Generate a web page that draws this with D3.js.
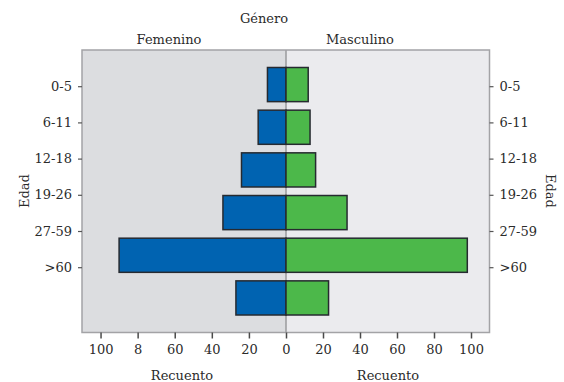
<!DOCTYPE html>
<html><head><meta charset="utf-8">
<script src="https://cdn.jsdelivr.net/npm/d3@7"></script>
<style>
body{margin:0;background:#fff;}
text{font-family:"DejaVu Serif",serif;fill:#2b2b2b;}
</style></head>
<body><svg id="c" width="564" height="382"></svg>
<script>
const ageLabels = ["0-5","6-11","12-18","19-26","27-59",">60"];
const barRows = ["r1","r2","r3","r4","r5","r6"];
const femenino = [10, 15, 24, 34, 90, 27];
const masculino = [12, 13, 16, 33, 98, 23];
const tickValues = [0, 20, 40, 60, 80, 100];
const leftTickLabels = ["0","20","40","60","8","100"];
const rightTickLabels = ["0","20","40","60","80","100"];

const svg = d3.select("#c");
const L = 82, R = 489.5, T = 50, B = 332.5, C = 286;
const maxV = 110;

const xL = d3.scaleLinear().domain([0, maxV]).range([C, L]);
const xR = d3.scaleLinear().domain([0, maxV]).range([C, R]);
const yBar = d3.scaleBand().domain(barRows).range([T, B]).paddingInner(0.2).paddingOuter(0.41);
const yLab = d3.scaleBand().domain(ageLabels).range([68.6, 285.8]);

// panels
svg.append("rect").attr("x", L).attr("y", T).attr("width", C - L).attr("height", B - T).attr("fill", "#dcdde0");
svg.append("rect").attr("x", C).attr("y", T).attr("width", R - C).attr("height", B - T).attr("fill", "#ebebee");

// frame and divider
svg.append("line").attr("x1", C).attr("x2", C).attr("y1", T).attr("y2", B)
  .attr("stroke", "#9a9a9c").attr("stroke-width", 1.5);

// bars
svg.append("g").selectAll("rect").data(femenino).join("rect")
  .attr("x", d => xL(d)).attr("y", (d, i) => yBar(barRows[i]))
  .attr("width", d => xL(0) - xL(d)).attr("height", yBar.bandwidth())
  .attr("fill", "#0063b1").attr("stroke", "#262a30").attr("stroke-width", 1.5);
svg.append("g").selectAll("rect").data(masculino).join("rect")
  .attr("x", xR(0)).attr("y", (d, i) => yBar(barRows[i]))
  .attr("width", d => xR(d) - xR(0)).attr("height", yBar.bandwidth())
  .attr("fill", "#4cb84a").attr("stroke", "#262a30").attr("stroke-width", 1.5);

svg.append("rect").attr("x", L).attr("y", T).attr("width", R - L).attr("height", B - T)
  .attr("fill", "none").attr("stroke", "#a3a3a6").attr("stroke-width", 1.5);

function styleAxis(g) {
  g.select(".domain").remove();
  g.selectAll(".tick line").attr("stroke", "#4a4a4a").attr("stroke-width", 1.5);
  g.selectAll(".tick text").style("font-size", "13px").attr("fill", "#2b2b2b");
}

// left y axis
svg.append("g").attr("transform", `translate(${L},0)`)
  .call(d3.axisLeft(yLab).tickSize(4).tickPadding(6))
  .call(styleAxis)
  .call(g => g.selectAll(".tick line").attr("stroke-width", 1.2).attr("stroke", "#555"));
// right y axis
svg.append("g").attr("transform", `translate(${R},0)`)
  .call(d3.axisRight(yLab).tickSize(4).tickPadding(6))
  .call(styleAxis)
  .call(g => g.selectAll(".tick line").attr("stroke-width", 1.2).attr("stroke", "#555"));

// bottom axes
svg.append("g").attr("transform", `translate(0,${B})`)
  .call(d3.axisBottom(xL).tickValues(tickValues).tickSize(6).tickPadding(6)
    .tickFormat((d, i) => leftTickLabels[i]))
  .call(styleAxis);
svg.append("g").attr("transform", `translate(0,${B})`)
  .call(d3.axisBottom(xR).tickValues(tickValues.slice(1)).tickSize(6).tickPadding(6)
    .tickFormat((d, i) => rightTickLabels[i + 1]))
  .call(styleAxis);

// titles
const t = (x, y, s, rot) => {
  const e = svg.append("text").attr("text-anchor", "middle").style("font-size", "13px").text(s);
  if (rot) e.attr("transform", `translate(${x},${y}) rotate(${rot})`);
  else e.attr("x", x).attr("y", y);
  return e;
};
t(264, 23, "Género");
t(169, 44, "Femenino");
t(360, 44, "Masculino");
t(182, 380, "Recuento");
t(388, 380, "Recuento");
t(29, 191, "Edad", -90);
t(546, 191, "Edad", 90);
</script></body></html>
